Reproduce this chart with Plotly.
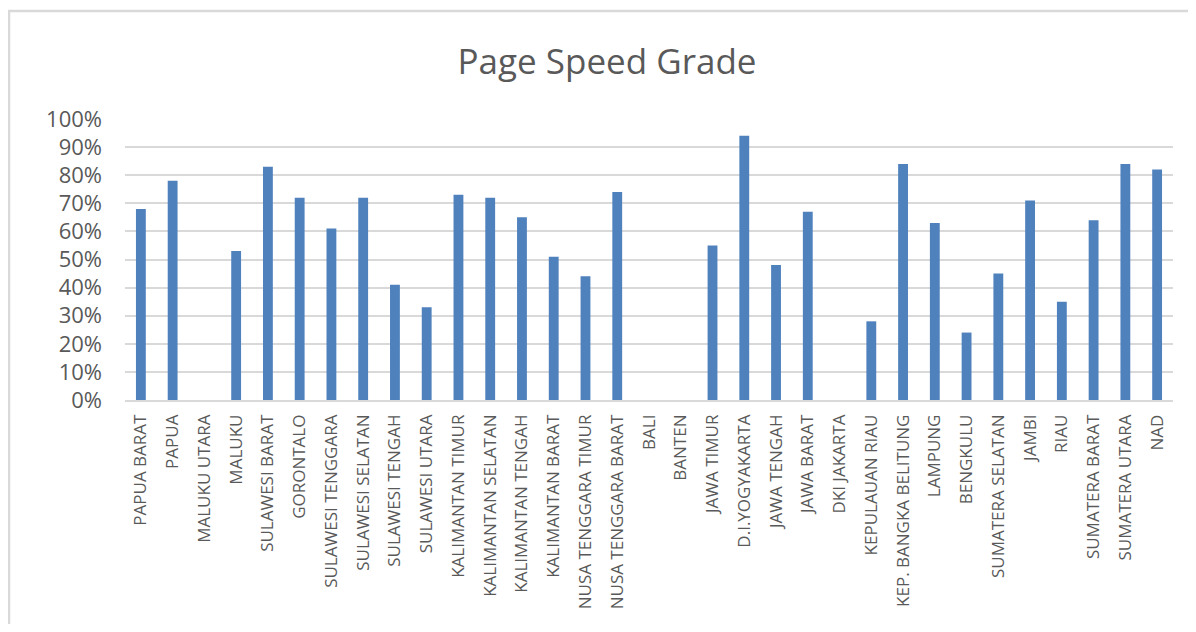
import plotly.graph_objects as go

categories = [
    "PAPUA BARAT", "PAPUA", "MALUKU UTARA", "MALUKU", "SULAWESI BARAT", "GORONTALO",
    "SULAWESI TENGGARA", "SULAWESI SELATAN", "SULAWESI TENGAH", "SULAWESI UTARA",
    "KALIMANTAN TIMUR", "KALIMANTAN SELATAN", "KALIMANTAN TENGAH", "KALIMANTAN BARAT",
    "NUSA TENGGARA TIMUR", "NUSA TENGGARA BARAT", "BALI", "BANTEN", "JAWA TIMUR",
    "D.I.YOGYAKARTA", "JAWA TENGAH", "JAWA BARAT", "DKI JAKARTA", "KEPULAUAN RIAU",
    "KEP. BANGKA BELITUNG", "LAMPUNG", "BENGKULU", "SUMATERA SELATAN", "JAMBI", "RIAU",
    "SUMATERA BARAT", "SUMATERA UTARA", "NAD",
]
grade = [
    0.68, 0.78, 0.0, 0.53, 0.83, 0.72,
    0.61, 0.72, 0.41, 0.33,
    0.73, 0.72, 0.65, 0.51,
    0.44, 0.74, 0.0, 0.0, 0.55,
    0.94, 0.48, 0.67, 0.0, 0.28,
    0.84, 0.63, 0.24, 0.45, 0.71, 0.35,
    0.64, 0.84, 0.82,
]
y_ticks = [0, 0.1, 0.2, 0.3, 0.4, 0.5, 0.6, 0.7, 0.8, 0.9, 1.0]
y_tick_labels = ["0%", "10%", "20%", "30%", "40%", "50%", "60%", "70%", "80%", "90%", "100%"]

# page body has an 8px default margin
W, H = 1188, 616
L, R, T, B = 117, 23, 111, 224
pw, ph = W - L - R, H - T - B

fig = go.Figure(go.Bar(
    x=categories, y=grade,
    marker=dict(color="#4f81bd", line=dict(width=0)),
    hoverinfo="x+y",
))

fig.update_layout(
    width=W, height=H,
    margin=dict(l=L, r=R, t=T, b=B),
    paper_bgcolor="white", plot_bgcolor="white",
    bargap=0.69,
    showlegend=False,
    font=dict(family="Open Sans, sans-serif", color="#595959"),
    title=dict(text="Page Speed Grade", font=dict(size=35, color="#595959"),
               x=599 / W, xref="container", xanchor="center",
               y=1 - 54 / H, yref="container", yanchor="middle"),
    xaxis=dict(tickangle=-90, tickfont=dict(size=17, color="#595959"),
               showgrid=False, showline=True, linecolor="#d9d9d9", linewidth=1.5,
               ticks="", ticklabelstandoff=6, fixedrange=True),
    yaxis=dict(range=[0, 1.0], tickvals=y_ticks, ticktext=y_tick_labels,
               tickfont=dict(size=22, color="#595959"),
               showgrid=True, gridcolor="#d9d9d9", gridwidth=1.5,
               zeroline=False, showline=False, ticks="", ticklabelstandoff=22,
               fixedrange=True),
    shapes=[dict(type="rect", xref="paper", yref="paper",
                 x0=(1 - L) / pw, x1=(W + 30 - L) / pw,
                 y0=-(H + 30 - T - ph) / ph, y1=(T + ph - 3) / ph,
                 line=dict(color="#d9d9d9", width=2.5), fillcolor="rgba(0,0,0,0)",
                 layer="below")],
)

fig.write_html("out.html")
